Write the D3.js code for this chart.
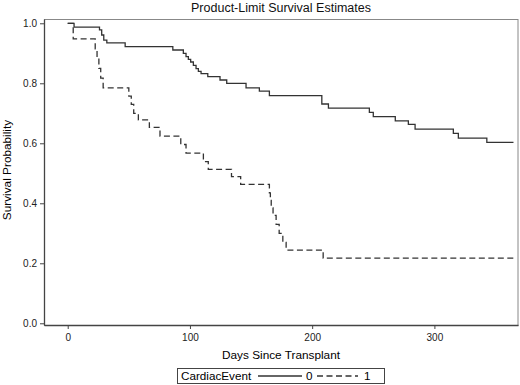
<!DOCTYPE html>
<html>
<head>
<meta charset="utf-8">
<script src="https://cdn.jsdelivr.net/npm/d3@7"></script>
<style>
    body { margin: 0; background: #fff; }
    svg { font-family: "Liberation Sans", Arial, sans-serif; }
    .axis path, .axis line { stroke: #444; }
    .axis text { font-size: 10px; fill: #222; }
</style>
</head>
<body>
<div id="chart"></div>
<script>
// CardiacEvent = 0 (solid)
const days0 = [0, 5.2, 26, 27.8, 29.5, 32, 47, 86, 94.6, 96.8, 98.7, 100.6, 102.8, 105, 106.9, 109.1, 114.6,
    124.6, 130.1, 145.9, 156.8, 165, 207.9, 213.3, 246.8, 250, 268, 278.7, 284.2, 315.5, 319.6, 342.9];
const surv0 = [1, 0.987, 0.978, 0.961, 0.944, 0.935, 0.922, 0.911, 0.9, 0.889, 0.88, 0.871, 0.86, 0.849, 0.84, 0.832, 0.822,
    0.811, 0.8, 0.785, 0.774, 0.759, 0.731, 0.717, 0.703, 0.689, 0.675, 0.663, 0.647, 0.633, 0.617, 0.603];
// CardiacEvent = 1 (dashed)
const days1 = [0, 4.5, 22.5, 24, 25.5, 27, 29, 50, 52, 54, 57.8, 66.8, 75.5, 92.5, 96.8, 111, 115, 134, 141.5,
    165, 165.8, 166.5, 168, 170.5, 173, 176, 178.7, 209];
const surv1 = [1, 0.948, 0.915, 0.883, 0.85, 0.817, 0.785, 0.757, 0.73, 0.7, 0.678, 0.653, 0.624, 0.596, 0.567, 0.539, 0.513, 0.489, 0.463,
    0.435, 0.41, 0.385, 0.36, 0.33, 0.3, 0.27, 0.244, 0.217];
const lastDay = 364.7;
const groups = ["0", "1"];
const xTicks = [0, 100, 200, 300];
const yTicks = [0, 0.2, 0.4, 0.6, 0.8, 1.0];

class SurvivalChart {
    constructor(element) {
        this.width = 520;
        this.height = 385;
        this.svg = d3.select(element).append("svg")
            .attr("width", this.width)
            .attr("height", this.height);
        this.plot = {left: 44, right: 518, top: 19, bottom: 325};
        this.draw();
    }

    generateRange() {
        this.x = d3.scaleLinear().domain([-19.4, 368.4]).range([this.plot.left, this.plot.right]);
        this.y = d3.scaleLinear().domain([-0.0057, 1.0143]).range([this.plot.bottom, this.plot.top]);
    }

    drawFrame() {
        this.svg.append("rect")
            .attr("x", this.plot.left + 0.5)
            .attr("y", this.plot.top + 0.5)
            .attr("width", this.plot.right - this.plot.left - 0.5)
            .attr("height", this.plot.bottom - this.plot.top)
            .attr("fill", "none")
            .attr("stroke", "#888");
    }

    drawAxes() {
        this.svg.append("g")
            .attr("class", "axis")
            .attr("transform", "translate(" + this.plot.left + ",0)")
            .call(d3.axisLeft(this.y).tickValues(yTicks).tickSize(4).tickSizeOuter(0).tickPadding(3)
                .tickFormat(d3.format(".1f")));

        this.svg.append("g")
            .attr("class", "axis")
            .attr("transform", "translate(0," + this.plot.bottom + ")")
            .call(d3.axisBottom(this.x).tickValues(xTicks).tickSize(4).tickSizeOuter(0).tickPadding(5));

        this.svg.selectAll(".axis .domain").attr("stroke-width", 1.3);

        this.svg.append("text")
            .attr("x", (this.plot.left + this.plot.right) / 2)
            .attr("y", 359)
            .attr("text-anchor", "middle")
            .style("font-size", "11.8px")
            .text("Days Since Transplant");

        this.svg.append("text")
            .attr("transform", "translate(11,170) rotate(-90)")
            .attr("text-anchor", "middle")
            .style("font-size", "11.8px")
            .text("Survival Probability");

        this.svg.append("text")
            .attr("x", 281)
            .attr("y", 12)
            .attr("text-anchor", "middle")
            .style("font-size", "12.5px")
            .style("fill", "#111")
            .text("Product-Limit Survival Estimates");
    }

    drawLines() {
        let line = d3.line()
            .curve(d3.curveStepAfter)
            .x(d => this.x(d[0]))
            .y(d => this.y(d[1]));

        let series = [
            {days: days0, surv: surv0, dash: null},
            {days: days1, surv: surv1, dash: "6,3.5"}
        ].map(s => {
            let pts = s.days.map((d, i) => [d, s.surv[i]]);
            pts.push([lastDay, s.surv[s.surv.length - 1]]);
            return {pts: pts, dash: s.dash};
        });

        this.svg.append("g").selectAll("path")
            .data(series)
            .enter()
            .append("path")
            .attr("d", d => line(d.pts))
            .attr("fill", "none")
            .attr("stroke", "#333")
            .attr("stroke-width", 1.3)
            .attr("stroke-dasharray", d => d.dash);
    }

    drawLegend() {
        let lg = this.svg.append("g");
        lg.append("rect")
            .attr("x", 177.5).attr("y", 368.5)
            .attr("width", 207).attr("height", 15)
            .attr("fill", "none").attr("stroke", "#444");
        lg.append("text")
            .attr("x", 181).attr("y", 380)
            .style("font-size", "11.7px")
            .text("CardiacEvent");

        let items = [
            {x1: 258, x2: 302, tx: 306, dash: null},
            {x1: 317, x2: 358, tx: 364, dash: "6,3.5"}
        ];
        items.forEach((it, i) => {
            lg.append("line")
                .attr("x1", it.x1).attr("x2", it.x2)
                .attr("y1", 376).attr("y2", 376)
                .attr("stroke", "#333").attr("stroke-width", 1.3)
                .attr("stroke-dasharray", it.dash);
            lg.append("text")
                .attr("x", it.tx).attr("y", 380)
                .style("font-size", "11.7px")
                .text(groups[i]);
        });
    }

    draw() {
        this.generateRange();
        this.drawFrame();
        this.drawLines();
        this.drawAxes();
        this.drawLegend();
    }
}

new SurvivalChart("#chart");
</script>
</body>
</html>
